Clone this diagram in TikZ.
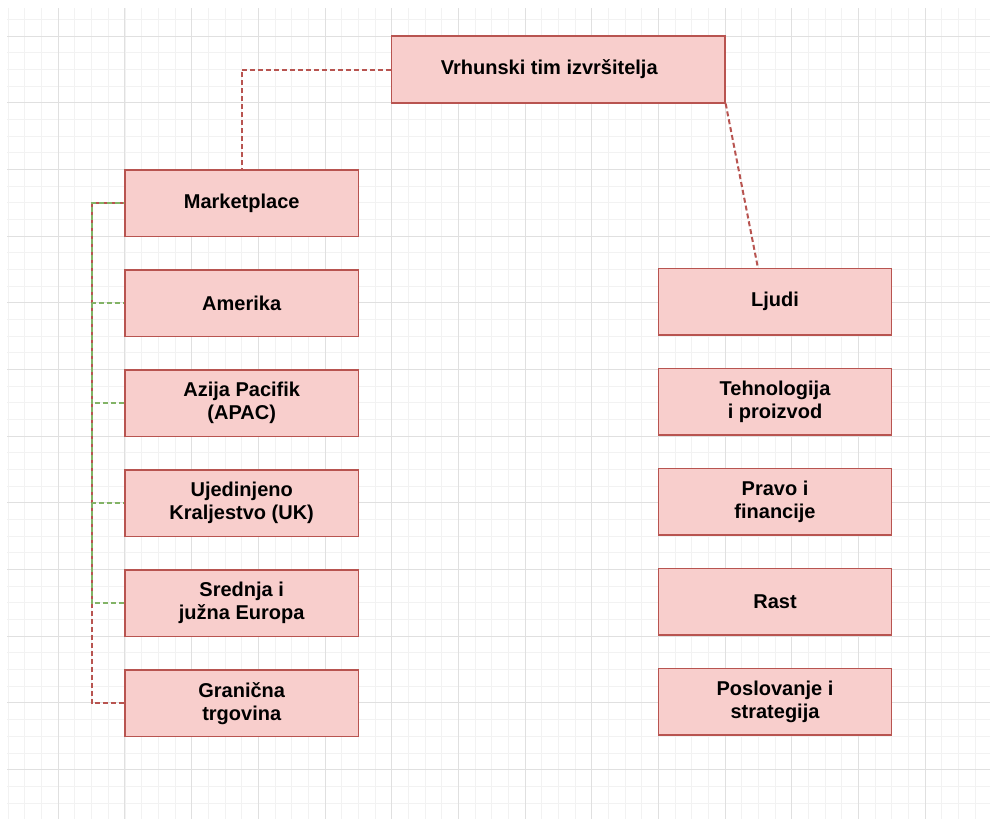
\documentclass[tikz,border=0pt]{standalone}
\usepackage{fontspec}
\setmainfont{Liberation Sans}
\definecolor{boxfill}{HTML}{F8CECC}
\definecolor{boxline}{HTML}{B85450}
\definecolor{linkred}{HTML}{B85450}
\definecolor{greenline}{HTML}{82B366}
\definecolor{minorgrid}{HTML}{F2F2F2}
\definecolor{majorgrid}{HTML}{E0E0E0}
\tikzset{
  orgbox/.style={rectangle, draw=boxline, fill=boxfill, line width=1.4pt,
    minimum width=233.3pt, minimum height=66.7pt, inner sep=0pt,
    align=center, font=\fontsize{20}{23}\selectfont\bfseries, text=black},
  redlink/.style={color=linkred, line width=2pt, dash pattern=on 5pt off 3pt},
  greenlink/.style={color=greenline, line width=2pt, dash pattern=on 5pt off 3pt, dash phase=4pt}
}
\begin{document}
\begin{tikzpicture}[x=1pt,y=-1pt]
\useasboundingbox (0,0) rectangle (990,823);
\fill[white] (0,0) rectangle (990,823);
\begin{scope}
\clip (7,8) rectangle (990,818);
\foreach \i in {0,...,60} {
  \draw[minorgrid, line width=1pt] ({8.33+16.667*\i},0) -- ({8.33+16.667*\i},823);
  \draw[minorgrid, line width=1pt] (0,{2.97+16.667*\i}) -- (990,{2.97+16.667*\i});
}
\foreach \i in {-1,...,15} {
  \draw[majorgrid, line width=1pt] ({58.33+66.667*\i},0) -- ({58.33+66.667*\i},823);
  \draw[majorgrid, line width=1pt] (0,{36.3+66.667*\i}) -- (990,{36.3+66.667*\i});
}
\end{scope}

\coordinate (bus) at (91.7,203.3);
\coordinate (ljin) at (758,268.3);

\node[orgbox, minimum width=333.3pt] (top) at (558.3,69.5) {\hbox{Vrhunski tim izvršitelja\kern18pt}};

\node[orgbox] (market) at (241.7,203.3) {Marketplace};
\node[orgbox] (amer) at (241.7,303.3) {Amerika};
\node[orgbox] (apac) at (241.7,403.3) {Azija Pacifik\\(APAC)};
\node[orgbox] (uk) at (241.7,503.3) {Ujedinjeno\\Kraljestvo (UK)};
\node[orgbox] (eu) at (241.7,603.3) {Srednja i\\južna Europa};
\node[orgbox] (gran) at (241.7,703.3) {Granična\\trgovina};

\node[orgbox] (ljudi) at (775,301.7) {Ljudi};
\node[orgbox] (teh) at (775,401.7) {Tehnologija\\i proizvod};
\node[orgbox] (pravo) at (775,501.7) {Pravo i\\financije};
\node[orgbox] (rast) at (775,601.7) {Rast};
\node[orgbox] (posl) at (775,701.7) {Poslovanje i\\strategija};

\draw[redlink] (top.west) -| (market.north);
\draw[redlink] (top.south east) -- (ljin);
\draw[redlink] (market.west) -- (bus) |- (gran.west);
\foreach \t in {amer,apac,uk,eu} {
  \draw[greenlink] (market.west) -- (bus) |- (\t.west);
}
\end{tikzpicture}
\end{document}
